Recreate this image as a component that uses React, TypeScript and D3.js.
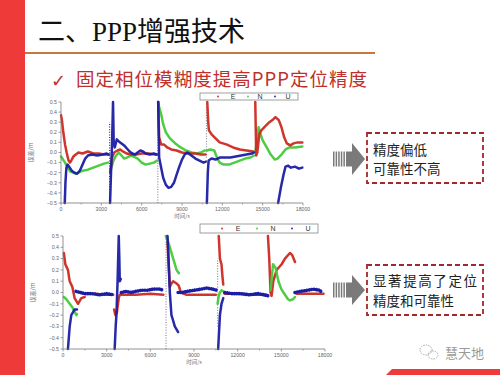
import * as d3 from "d3"

type Pt = [number, number]

// time axis / error axis
const xTicks = [0, 3000, 6000, 9000, 12000, 15000, 18000]
const xMinor = [1500, 4500, 7500, 10500, 13500, 16500]
const yTicks = [0.5, 0.4, 0.3, 0.2, 0.1, 0, -0.1, -0.2, -0.3, -0.4, -0.5]
const components = ["E", "N", "U"]
const compColor: Record<string, string> = { E: "#cc2a22", N: "#45c93a", U: "#1b1ea3" }

// upper panel: float ambiguity PPP
const floatE: Pt[][] = [
  [[0, 0.37], [60, 0.33], [170, 0.2], [300, 0.08], [420, 0], [560, -0.08], [670, -0.1], [800, -0.07], [920, -0.04], [1100, -0.02], [1300, 0], [1600, -0.01], [2000, 0.01], [2400, -0.01], [2800, -0.01], [3200, -0.02], [3500, -0.02]],
  [[3650, -0.2], [3700, -0.15], [3800, -0.05], [3950, 0], [4200, 0.02], [4400, 0.03], [4600, 0.01], [4900, -0.01], [5200, -0.02], [5600, -0.02], [6000, -0.01], [6500, -0.01], [7000, -0.02], [7150, -0.02]],
  [[7230, 0.5], [7300, 0.15], [7450, 0.08], [7650, 0.08], [7900, 0.05], [8200, 0.03], [8600, 0.02], [9000, 0], [9500, -0.01], [10000, -0.01], [10400, -0.02], [10750, -0.02]],
  [[10880, 0.5], [10950, 0.3], [11000, 0.22], [11200, 0.18], [11500, 0.14], [11800, 0.1], [12300, 0.08], [12800, 0.05], [13300, 0.03], [13800, 0.02], [14300, 0.01]],
  [[14450, 0.5], [14520, -0.03], [14600, 0], [14750, 0.18], [14900, 0.22], [15200, 0.26], [15500, 0.3], [15800, 0.33], [15950, 0.35], [16200, 0.32], [16400, 0.25], [16600, 0.15], [16800, 0.09], [17050, 0.07], [17300, 0.09], [17600, 0.1], [17950, 0.1]],
]
const floatN: Pt[][] = [
  [[0, -0.04], [100, -0.06], [300, -0.1], [500, -0.15], [700, -0.19], [900, -0.2], [1100, -0.21], [1300, -0.2], [1600, -0.18], [2000, -0.17], [2400, -0.15], [2800, -0.13], [3200, -0.11], [3500, -0.1]],
  [[3650, -0.18], [3750, -0.15], [3900, -0.08], [4100, -0.03], [4300, 0], [4500, -0.03], [4700, -0.06], [4900, -0.05], [5200, -0.03], [5400, -0.04], [5700, -0.06], [6000, -0.1], [6300, -0.12], [6600, -0.11], [6900, -0.1], [7150, -0.08]],
  [[7220, 0.5], [7300, 0.45], [7450, 0.38], [7600, 0.28], [7800, 0.2], [8100, 0.14], [8500, 0.09], [8900, 0.05], [9300, 0.02], [9700, 0], [10100, -0.01], [10400, 0], [10700, 0.02]],
  [[10850, 0.02], [11100, 0.03], [11400, 0.02], [11600, -0.05], [11800, -0.1], [12100, -0.12], [12500, -0.12], [12900, -0.1], [13300, -0.08], [13700, -0.06], [14100, -0.05], [14350, -0.03]],
  [[14450, 0], [14600, 0.15], [14700, 0.25], [14800, 0.2], [15000, 0.12], [15300, 0.05], [15600, -0.02], [15900, -0.07], [16100, -0.06], [16400, -0.02], [16700, 0.03], [17000, 0.05], [17400, 0.05], [17950, 0.06]],
]
const floatU: Pt[][] = [
  [[280, -0.5], [330, -0.3], [400, -0.15], [500, -0.12], [650, -0.15], [800, -0.18], [1000, -0.2], [1200, -0.21], [1400, -0.18], [1600, -0.12], [1800, -0.06], [2000, -0.03], [2300, -0.02], [2700, -0.03], [3100, -0.02], [3400, -0.01], [3550, -0.02]],
  [[3650, -0.5], [3720, -0.2], [3800, 0.1], [3870, 0.5], [3920, 0.1], [4000, 0.05], [4150, 0.13], [4300, 0.11], [4500, 0.09], [4700, 0.07], [4900, 0.04], [5100, 0.01], [5300, -0.01], [5500, -0.02], [5700, 0], [5900, 0.02], [6100, 0.01], [6300, -0.01], [6600, -0.02], [6900, -0.01], [7100, -0.02]],
  [[7230, 0.5], [7300, -0.05], [7450, -0.15], [7600, -0.25], [7800, -0.32], [8000, -0.35], [8200, -0.34], [8400, -0.3], [8600, -0.22], [8800, -0.14], [9000, -0.07], [9200, -0.02], [9400, 0], [9700, -0.03], [10000, -0.06], [10300, -0.08], [10600, -0.1], [10780, -0.09]],
  [[10850, -0.5], [10920, -0.2], [10980, -0.08], [11200, -0.06], [11500, -0.07], [11800, -0.05], [12200, -0.05], [12600, -0.05], [13000, -0.04], [13400, -0.03], [13800, -0.02], [14200, -0.01], [14350, 0]],
  [[16150, -0.5], [16350, -0.35], [16550, -0.22], [16700, -0.14], [16900, -0.13], [17100, -0.15], [17400, -0.14], [17700, -0.16], [17950, -0.15]],
]
// re-initialisation traces drawn as dotted verticals [t, from, to, component]
const floatReinit: [number, number, number, string][] = [
  [3620, -0.5, 0.3, "U"],
  [7200, -0.5, 0.5, "gray"],
  [10820, -0.05, 0.45, "gray"],
]

// lower panel: fixed ambiguity PPP
const fixedE: Pt[][] = [
  [[60, 0.35], [160, 0.25], [340, 0.2], [460, 0.1], [640, 0.05], [800, -0.05], [1030, -0.1], [1260, -0.05], [1490, -0.04]],
  [[1500, -0.01], [2200, -0.01], [2900, -0.02], [3450, -0.02]],
  [[3510, -0.15], [3600, -0.2], [3700, -0.18], [3830, -0.05], [3900, -0.02], [4100, -0.02], [5000, -0.02], [6000, -0.01], [6900, -0.02]],
  [[7180, 0.45], [7340, 0.05], [7450, 0.08], [7570, 0.1], [7800, 0.08], [7950, 0.06], [8100, 0], [8500, -0.02], [9500, -0.02], [10500, -0.02]],
  [[10700, 0.5], [10780, 0.3], [10890, 0.25], [10950, 0.15], [11010, 0.07]],
  [[11100, -0.01], [12000, -0.01], [13000, -0.02], [14000, -0.02]],
  [[14080, 0.5], [14170, 0.3], [14260, 0], [14330, -0.03], [14450, 0.1], [14680, 0.2], [15020, 0.25], [15250, 0.3], [15590, 0.35], [15750, 0.33], [15940, 0.27]],
  [[16050, -0.01], [17000, -0.01], [17900, -0.01]],
]
const fixedN: Pt[][] = [
  [[60, -0.04], [230, -0.06], [460, -0.1], [640, -0.13], [800, -0.17], [920, -0.2], [960, -0.19]],
  [[7060, 0.5], [7220, 0.45], [7340, 0.4], [7570, 0.3], [7800, 0.2], [7960, 0.17]],
  [[10620, -0.1], [10700, -0.03], [10780, 0], [10900, 0.02], [11120, 0]],
  [[14260, 0.02], [14430, 0.25], [14600, 0.22], [14800, 0.1], [15000, 0.03], [15250, -0.02], [15460, -0.06], [15600, -0.07], [15800, -0.06], [15940, -0.04]],
]
const fixedU: Pt[][] = [
  [[340, -0.5], [460, -0.3], [570, -0.2], [800, -0.15], [960, -0.15]],
  [[3550, -0.5], [3620, -0.3], [3670, -0.2], [3750, 0.1], [3830, 0.5], [3870, 0.3], [3900, 0.1], [3970, 0.12]],
  [[7180, 0.5], [7220, 0.4], [7340, 0], [7450, -0.2], [7570, -0.25], [7680, -0.3], [7910, -0.35]],
  [[10660, -0.5], [10780, -0.2], [10890, -0.1], [11010, -0.05]],
]
// converged (fixed) solutions plotted as a bead chain
const fixedUConverged: Pt[][] = [
  [[900, 0.01], [1200, 0], [1500, -0.01], [2000, -0.01], [2500, -0.02], [3000, -0.01], [3440, -0.02]],
  [[4010, 0], [4300, 0.01], [4700, 0], [5000, 0.01], [5400, 0.02], [5800, 0.02], [6200, 0.03], [6650, 0.03], [6880, 0.02]],
  [[7910, 0], [8200, 0], [8500, 0.01], [9000, 0.02], [9500, 0.03], [9860, 0.04], [10300, 0.03], [10550, 0.02]],
  [[11120, 0], [11600, -0.01], [12200, -0.01], [12800, -0.02], [13400, -0.01], [13800, -0.02], [14100, -0.03]],
  [[15940, 0], [16300, 0.01], [16800, 0.02], [17200, 0.03], [17650, 0.02], [17770, 0]],
]
const fixedReinit: [number, number, number, string][] = [
  [7080, -0.5, 0.5, "gray"],
  [10620, -0.3, 0.3, "gray"],
]

interface PanelProps {
  left: number
  right: number
  top: number
  bottom: number
  lines: [string, Pt[][]][]
  beads?: Pt[][]
  reinit: [number, number, number, string][]
  legend: { x0: number; x1: number; y0: number; y1: number; dots: number[]; letters: number[] }
}

function Panel({ left, right, top, bottom, lines, beads, reinit, legend }: PanelProps) {
  const x = d3.scaleLinear().domain([0, 18000]).range([left, right])
  const y = d3.scaleLinear().domain([-0.5, 0.5]).range([bottom, top])
  const line = d3.line<Pt>().x((d) => x(d[0])).y((d) => y(d[1]))
  const fmt = d3.format(".1f")
  const axisColor = "#777"
  const tickFont = { fontFamily: "Liberation Sans, Arial, sans-serif", fontSize: 5.2, fill: "#666" }

  return (
    <g>
      {reinit.map(([t, a, b, c], i) => (
        <line key={"r" + i} x1={x(t)} x2={x(t)} y1={y(a)} y2={y(b)}
          stroke={c === "gray" ? "#8a8a9a" : compColor[c]} strokeWidth={1.2} strokeDasharray="1,1.6" />
      ))}
      {lines.map(([k, segs]) =>
        segs.map((s, i) => (
          <path key={k + i} d={line(s) ?? ""} fill="none" stroke={compColor[k]}
            strokeWidth={2.5} strokeLinejoin="round" strokeLinecap="round" opacity={0.95} />
        ))
      )}
      {beads?.map((s, i) => (
        <path key={"b" + i} d={line(s) ?? ""} fill="none" stroke={compColor.U}
          strokeWidth={3.6} strokeLinecap="round" strokeDasharray="0.01,2.4" />
      ))}

      {/* axes */}
      <line x1={left} x2={left} y1={top} y2={bottom} stroke={axisColor} strokeWidth={0.8} />
      <line x1={left} x2={right} y1={bottom} y2={bottom} stroke={axisColor} strokeWidth={0.8} />
      {yTicks.map((v) => (
        <g key={"y" + v}>
          <line x1={left - 2.5} x2={left} y1={y(v)} y2={y(v)} stroke={axisColor} strokeWidth={0.7} />
          <text x={left - 4} y={y(v)} dy="0.35em" textAnchor="end" {...tickFont}>{fmt(v)}</text>
        </g>
      ))}
      {xTicks.map((v) => (
        <g key={"x" + v}>
          <line x1={x(v)} x2={x(v)} y1={bottom} y2={bottom + 2.5} stroke={axisColor} strokeWidth={0.7} />
          <text x={x(v)} y={bottom + 7.5} textAnchor="middle" {...tickFont}>{v}</text>
        </g>
      ))}
      {xMinor.map((v) => (
        <line key={"m" + v} x1={x(v)} x2={x(v)} y1={bottom} y2={bottom + 1.5} stroke={axisColor} strokeWidth={0.6} />
      ))}
      <text x={(left + right) / 2} y={bottom + 15} textAnchor="middle" fontFamily="Noto Sans CJK SC" fontSize={5.5} fill="#777">
        时间/s
      </text>
      <text transform={`translate(${left - 28},${(top + bottom) / 2}) rotate(-90)`} textAnchor="middle"
        fontFamily="Noto Sans CJK SC" fontSize={6} fill="#777">
        误差/m
      </text>

      {/* legend */}
      <rect x={legend.x0} y={legend.y0} width={legend.x1 - legend.x0} height={legend.y1 - legend.y0}
        fill="#fff" stroke="#888" strokeWidth={0.8} />
      {components.map((k, i) => (
        <g key={"l" + k}>
          <circle cx={legend.dots[i]} cy={(legend.y0 + legend.y1) / 2} r={0.9} fill={compColor[k]} />
          <text x={legend.letters[i]} y={(legend.y0 + legend.y1) / 2} dy="0.36em" textAnchor="middle"
            fontFamily="Liberation Sans, Arial, sans-serif" fontSize={7} fill="#333">{k}</text>
        </g>
      ))}
    </g>
  )
}

function Arrow({ cy, half }: { cy: number; half: number }) {
  const x0 = 333
  const stripes = d3.range(0, 5)
  return (
    <g fill="#7a7a7a">
      {stripes.map((i) => (
        <rect key={i} x={x0 + i * 2.6} y={cy - 7.5} width={1.5} height={15} />
      ))}
      <rect x={346} y={cy - 7.5} width={7} height={15} />
      <polygon points={`352,${cy - half} 365,${cy} 352,${cy + half}`} />
    </g>
  )
}

function NoteBox({ y0, y1, lines }: { y0: number; y1: number; lines: [string, number, number?][] }) {
  return (
    <g>
      <rect x={367} y={y0} width={116} height={y1 - y0} fill="#fff" stroke="#a3262b" strokeWidth={1.8} strokeDasharray="5,3" />
      {lines.map(([t, b, len]) => (
        <text key={t} x={373} y={b} fontFamily="Noto Sans CJK SC" fontSize={13.5} fill="#222"
          textLength={len} lengthAdjust={len ? "spacing" : undefined}>{t}</text>
      ))}
    </g>
  )
}

export default function App() {
  return (
    <svg width={500} height={375} viewBox="0 0 500 375"
      style={{ position: "absolute", left: 0, top: 0, background: "#fff" }}>
      <rect x={0} y={0} width={500} height={375} fill="#fff" />
      <rect x={0} y={0} width={25} height={375} fill="#ef3a3a" />
      <polygon points="392,369 500,369 500,375 386,375" fill="#ef3a3a" />

      <text x={38} y={41} fontSize={27} fill="#111" fontFamily="Liberation Serif, 'Noto Sans CJK SC', serif">
        二、PPP增强技术
      </text>
      <line x1={25} x2={375} y1={53} y2={53} stroke="#c9763e" strokeWidth={2} />
      <text x={51} y={87} fontSize={18} fill="#c0302a" fontFamily="DejaVu Sans">✓</text>
      <text x={76} y={86} fontSize={18.5} fill="#c0302a" fontFamily="'Noto Sans CJK SC', sans-serif"
        textLength={291} lengthAdjust="spacing">
        固定相位模糊度提高PPP定位精度
      </text>

      <Panel left={61} right={303} top={102} bottom={203}
        lines={[["N", floatN], ["E", floatE], ["U", floatU]]}
        reinit={floatReinit}
        legend={{ x0: 200, x1: 298, y0: 93, y1: 100, dots: [218, 248, 275], letters: [233, 260, 288] }} />
      <Panel left={63} right={325} top={236} bottom={349}
        lines={[["E", fixedE], ["N", fixedN], ["U", fixedU]]}
        beads={fixedUConverged}
        reinit={fixedReinit}
        legend={{ x0: 200, x1: 318, y0: 224, y1: 233, dots: [222, 257, 292], letters: [238, 273, 308] }} />

      <Arrow cy={159} half={16} />
      <NoteBox y0={133} y1={183} lines={[["精度偏低", 155], ["可靠性不高", 174]]} />
      <Arrow cy={290} half={15} />
      <NoteBox y0={265} y1={315} lines={[["显著提高了定位", 286, 104], ["精度和可靠性", 306]]} />

      {/* watermark */}
      <g fill="none" stroke="#aaa" strokeWidth={1} strokeDasharray="1.5,1">
        <ellipse cx={426} cy={350} rx={6} ry={5} />
        <ellipse cx={433} cy={355} rx={5} ry={4} />
      </g>
      <text x={445} y={358} fontSize={13} fill="#9a9a9a" fontFamily="Noto Sans CJK SC">慧天地</text>
    </svg>
  )
}
